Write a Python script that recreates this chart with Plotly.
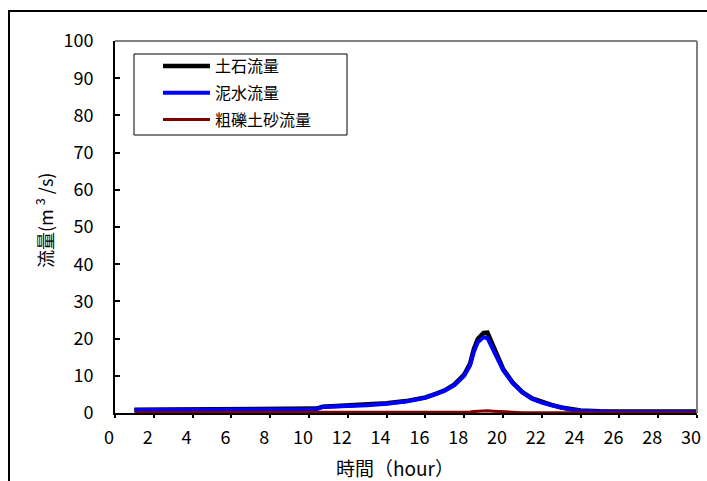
import plotly.graph_objects as go

# ---- data ----
hours = [1.0, 2, 3, 4, 5, 6, 7, 7.5, 8, 9, 10, 10.4, 10.7, 11, 12, 13, 14, 15, 16, 16.5, 17, 17.5,
         18.0, 18.3, 18.5, 18.7, 19.0, 19.2, 19.5, 19.8, 20.0, 20.5, 21.0, 21.5, 22.0, 22.5,
         23.0, 23.5, 24.0, 25, 26, 27, 28, 29, 30]
mud_flow = [0.8, 0.8, 0.8, 0.8, 0.8, 0.8, 0.8, 0.9, 1.0, 1.0, 1.0, 1.1, 1.6, 1.7, 1.8, 2.1, 2.5, 3.1,
            4.1, 5.0, 6.0, 7.5, 10.0, 12.8, 16.5, 19.0, 20.4, 20.1, 17.0, 13.5, 11.6, 8.0, 5.5,
            3.8, 2.8, 2.1, 1.4, 0.9, 0.6, 0.4, 0.3, 0.3, 0.3, 0.3, 0.3]
debris_flow = [0.9, 0.9, 0.9, 0.9, 0.9, 0.9, 0.9, 1.0, 1.1, 1.1, 1.1, 1.2, 1.7, 1.8, 1.9, 2.2, 2.6,
               3.2, 4.2, 5.1, 6.1, 7.7, 10.3, 13.2, 17.2, 19.9, 21.5, 21.6, 18.0, 14.0, 11.9, 8.2,
               5.6, 3.9, 2.9, 2.2, 1.5, 1.0, 0.7, 0.5, 0.4, 0.4, 0.4, 0.4, 0.4]
coarse_flow = [0.1, 0.1, 0.1, 0.1, 0.1, 0.1, 0.1, 0.1, 0.1, 0.1, 0.1, 0.1, 0.1, 0.1, 0.1, 0.1, 0.1,
               0.1, 0.1, 0.1, 0.1, 0.1, 0.2, 0.3, 0.4, 0.5, 0.6, 0.6, 0.5, 0.4, 0.3, 0.15, 0.1,
               0.1, 0.1, 0.1, 0.1, 0.1, 0.1, 0.1, 0.1, 0.1, 0.1, 0.1, 0.1]
series_names = ["土石流量", "泥水流量", "粗礫土砂流量"]
x_ticks = list(range(0, 31, 2))
y_ticks = list(range(0, 101, 10))

FONT = "Noto Sans CJK JP"

fig = go.Figure()
fig.add_trace(go.Scatter(x=hours, y=debris_flow, mode="lines", name=series_names[0],
                         legendgroup="a", line=dict(color="#000000", width=4.5)))
fig.add_trace(go.Scatter(x=hours, y=mud_flow, mode="lines", name=series_names[1],
                         legendgroup="b", line=dict(color="#0000FF", width=4)))
fig.add_trace(go.Scatter(x=hours, y=coarse_flow, mode="lines", name=series_names[2],
                         legendgroup="c", line=dict(color="#800000", width=3)))

W, H = 707, 481
L, R, T, B = 115, 10, 41, 68
pw, ph = W - L - R, H - T - B

def px(xp):
    return (xp - L) / pw

def py(yp):
    return (H - B - yp) / ph

fig.update_layout(
    width=W, height=H,
    margin=dict(l=L, r=R, t=T, b=B, autoexpand=False),
    paper_bgcolor="white", plot_bgcolor="white",
    font=dict(family=FONT, color="black", size=18),
    showlegend=True,
    legend=dict(x=px(158), y=py(49), xanchor="left", yanchor="top",
                bgcolor="rgba(0,0,0,0)", borderwidth=0,
                font=dict(family=FONT, size=16), tracegroupgap=3,
                itemwidth=47),
    xaxis=dict(range=[0, 30], tickvals=x_ticks, ticktext=[str(v) for v in x_ticks],
               automargin=False,
               showgrid=False, zeroline=False, showline=True, linecolor="black", linewidth=2,
               ticks="outside", ticklen=3, tickwidth=1.5, tickcolor="black",
               ticklabelshift=-6, ticklabelstandoff=4,
               tickfont=dict(family=FONT, size=18)),
    yaxis=dict(range=[0, 100], tickvals=y_ticks, ticktext=[str(v) for v in y_ticks],
               automargin=False,
               showgrid=False, zeroline=False, showline=True, linecolor="black", linewidth=2,
               ticks="inside", ticklen=5, tickwidth=1.5, tickcolor="black",
               ticklabelstandoff=16,
               tickfont=dict(family=FONT, size=18)),
    shapes=[
        # plot area top/right border (gray)
        dict(type="line", xref="paper", yref="paper", x0=0, x1=1, y0=1, y1=1,
             line=dict(color="#808080", width=2)),
        dict(type="line", xref="paper", yref="paper", x0=1, x1=1, y0=0, y1=1,
             line=dict(color="#808080", width=2)),
        # outer chart frame
        dict(type="rect", xref="paper", yref="paper", x0=px(9), x1=px(760), y0=py(11), y1=py(540),
             line=dict(color="black", width=2), fillcolor="rgba(0,0,0,0)", layer="below"),
        # legend frame
        dict(type="rect", xref="paper", yref="paper", x0=px(134), x1=px(347), y0=py(54), y1=py(135),
             line=dict(color="black", width=1), fillcolor="white", layer="below"),
    ],
    annotations=[
        dict(text="流量(m <sup>3</sup> /s)", xref="paper", yref="paper", x=px(44), y=py(221),
             textangle=-90, showarrow=False, font=dict(family=FONT, size=18),
             xanchor="center", yanchor="middle"),
        dict(text="時間（hour）", xref="paper", yref="paper", x=px(395), y=py(467),
             showarrow=False, font=dict(family=FONT, size=19),
             xanchor="center", yanchor="middle"),
    ],
)

fig.write_html(
    "out.html",
    config={"displayModeBar": False},
    post_script="document.body.style.margin='0';document.body.style.overflow='hidden';"
                "document.documentElement.style.overflow='hidden';",
)
